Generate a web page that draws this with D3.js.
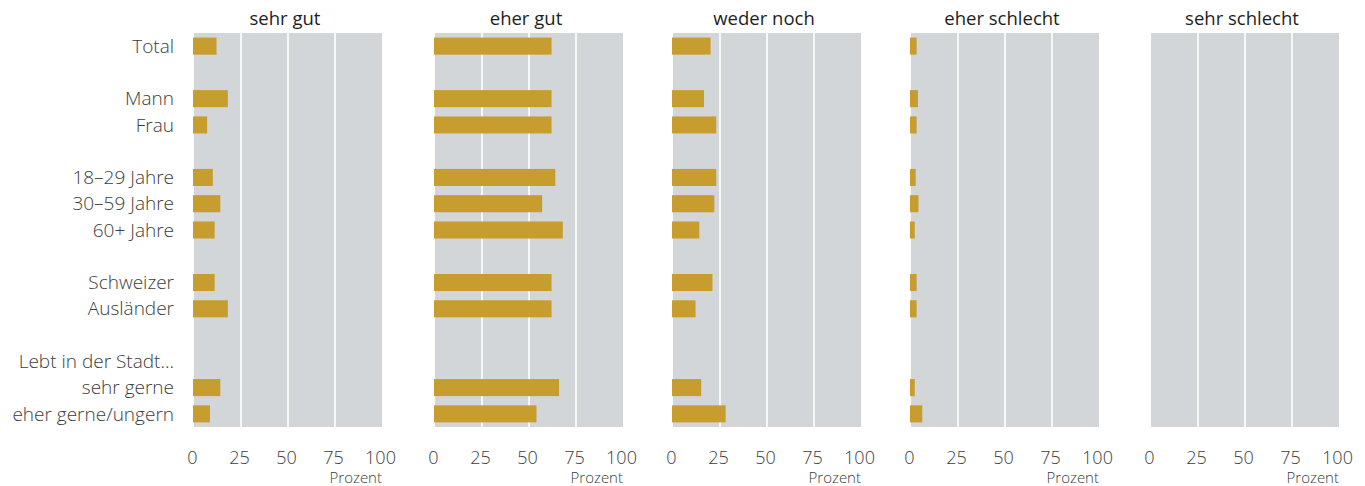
<!DOCTYPE html>
<html>
<head>
<meta charset="utf-8">
<script src="https://cdn.jsdelivr.net/npm/d3@7"></script>
<style>
  body { margin: 0; background: #fff; }
  text { font-family: "Open Sans", sans-serif; }
</style>
</head>
<body>
<script>
// chart size
var width = 1365;
var height = 486;

// rows (empty strings are spacer rows)
var rows = ["Total", "", "Mann", "Frau", "", "18\u201329 Jahre", "30\u201359 Jahre", "60+ Jahre", "",
            "Schweizer", "Ausländer", "", "Lebt in der Stadt...", "sehr gerne", "eher gerne/ungern"];

var panels = ["sehr gut", "eher gut", "weder noch", "eher schlecht", "sehr schlecht"];

// values in percent, one array per panel (null = no bar)
var sehrGut      = [12, null, 18, 7, null, 10, 14, 11, null, 11, 18, null, null, 14, 8.5];
var eherGut      = [62, null, 62, 62, null, 64, 57, 68, null, 62, 62, null, null, 66, 54];
var wederNoch    = [20, null, 16.5, 23, null, 23, 22, 14, null, 21, 12, null, null, 15, 28];
var eherSchlecht = [3, null, 3.7, 3, null, 2.5, 4, 2, null, 3, 3, null, null, 2, 6];
var sehrSchlecht = [0, null, 0, 0, null, 0, 0, 0, null, 0, 0, null, null, 0, 0];

var ticks = [0, 25, 50, 75, 100];

var values = [sehrGut, eherGut, wederNoch, eherSchlecht, sehrSchlecht];

var svg = d3.select("body").append("svg")
    .attr("width", width)
    .attr("height", height);

var y = d3.scaleBand()
    .domain(d3.range(rows.length))
    .range([33, 427])
    .paddingInner(0.35)
    .paddingOuter(0.175);

// panel left edges (layout)
var panelLeft = [194, 435, 673, 911, 1151];
var panelW = 188;

// row labels
svg.append("g")
    .selectAll("text")
    .data(rows)
    .enter()
    .append("text")
    .attr("x", 174)
    .attr("y", function(d, i){ return y(i) + y.bandwidth() / 2; })
    .attr("dy", "0.35em")
    .attr("text-anchor", "end")
    .attr("font-size", 19)
    .attr("font-weight", 300)
    .attr("fill", "#3c3c3c")
    .text(function(d){ return d; });

panels.forEach(function(name, p){
  var x0 = panelLeft[p];
  var x = d3.scaleLinear().domain([0, 100]).range([x0, x0 + panelW]);
  var g = svg.append("g");

  g.append("rect")
      .attr("x", x0)
      .attr("y", 33)
      .attr("width", panelW)
      .attr("height", 394)
      .attr("fill", "#d3d6d9");

  g.selectAll("line.grid")
      .data(ticks.slice(1, 4))
      .enter()
      .append("line")
      .attr("x1", function(d){ return x(d); })
      .attr("x2", function(d){ return x(d); })
      .attr("y1", 33)
      .attr("y2", 427)
      .attr("stroke", "#fff")
      .attr("stroke-width", 1.6);

  g.append("text")
      .attr("x", x0 + panelW / 2 - 3)
      .attr("y", 25)
      .attr("text-anchor", "middle")
      .attr("font-size", 18.5)
      .attr("fill", "#1e1e1e")
      .text(name);

  var data = values[p].map(function(v, i){ return {v: v, i: i}; })
      .filter(function(d){ return d.v; });

  g.selectAll("rect.bar")
      .data(data)
      .enter()
      .append("rect")
      .attr("class", "bar")
      .attr("x", x(0) - 1)
      .attr("y", function(d){ return y(d.i); })
      .attr("width", function(d){ return x(d.v) - x(0) + 1; })
      .attr("height", y.bandwidth())
      .attr("fill", "#c89d2f");

  // x axis ticks (no line)
  var axis = d3.axisBottom(x).tickValues(ticks).tickSize(0).tickPadding(0);
  var ag = g.append("g")
      .attr("transform", "translate(-2," + 451 + ")")
      .call(axis);
  ag.select(".domain").remove();
  ag.selectAll("text")
      .attr("font-family", "Open Sans, sans-serif")
      .attr("font-size", 18)
      .attr("font-weight", 300)
      .attr("fill", "#3c3c3c");

  g.append("text")
      .attr("x", x0 + panelW)
      .attr("y", 483)
      .attr("text-anchor", "end")
      .attr("font-size", 15)
      .attr("font-weight", 300)
      .attr("fill", "#3c3c3c")
      .text("Prozent");
});
</script>
</body>
</html>
